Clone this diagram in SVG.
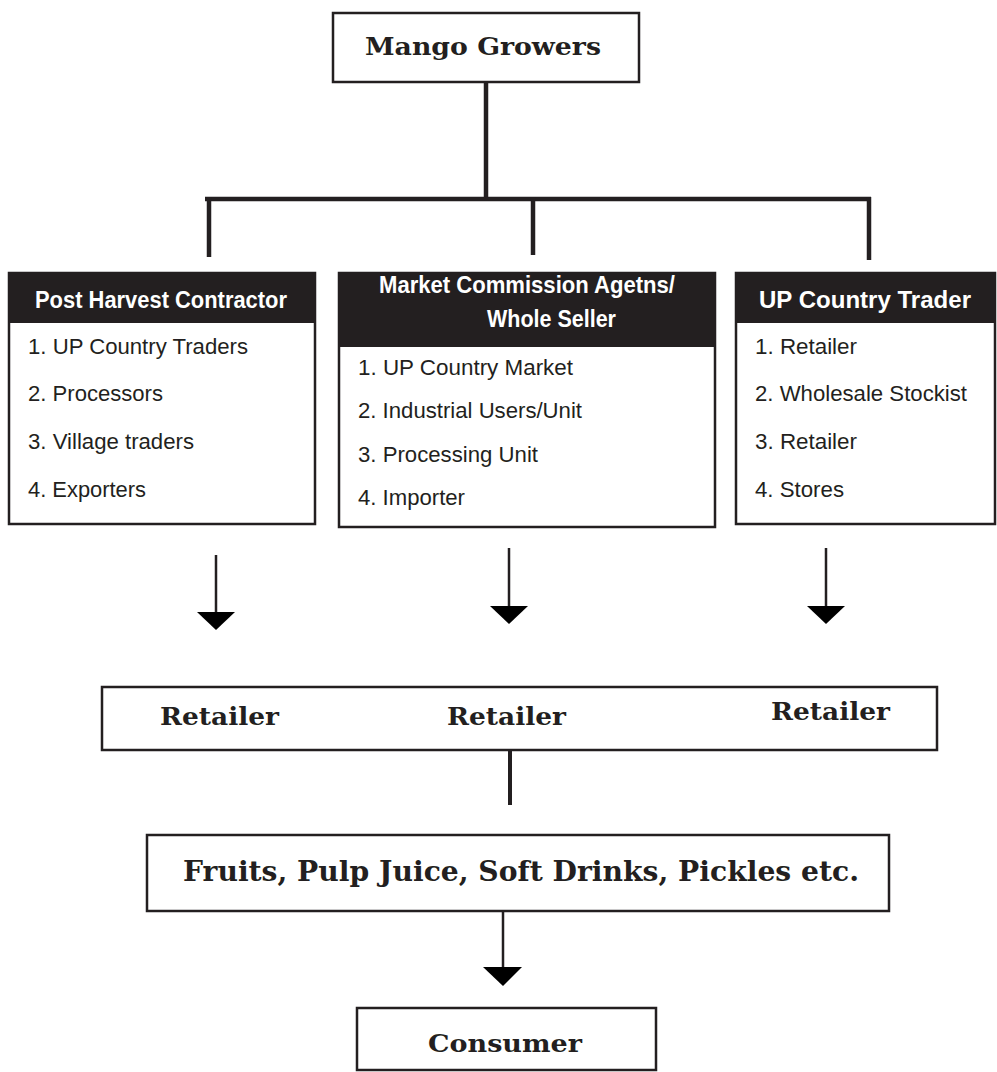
<svg xmlns="http://www.w3.org/2000/svg" width="997" height="1072" viewBox="0 0 997 1072">
<style>
.box{fill:#fff;stroke:#231f20;stroke-width:2.5}
.hdr{fill:#231f20}
.ln{stroke:#231f20;fill:none}
.serif{font-family:"DejaVu Serif","Liberation Serif",serif;font-weight:bold;fill:#231f20}
.hd{font-family:"Liberation Sans Narrow","Liberation Sans",Arial,sans-serif;font-weight:bold;fill:#fff;font-size:23px}
.it{font-family:"Liberation Sans Narrow","Liberation Sans",Arial,sans-serif;fill:#231f20;font-size:22px}
</style>
<rect width="997" height="1072" fill="#fff"/>

<g id="connectors">
<line class="ln" x1="486" y1="82" x2="486" y2="199" stroke-width="4.5"/>
<line class="ln" x1="205" y1="199" x2="871" y2="199" stroke-width="4.5"/>
<line class="ln" x1="209" y1="197" x2="209" y2="257" stroke-width="4.5"/>
<line class="ln" x1="533" y1="197" x2="533" y2="255" stroke-width="4.5"/>
<line class="ln" x1="869" y1="197" x2="869" y2="260" stroke-width="4.5"/>
<line class="ln" x1="216" y1="555" x2="216" y2="612" stroke-width="2.5"/>
<path d="M197,612 L235,612 L216,630 Z" fill="#000"/>
<line class="ln" x1="509" y1="548" x2="509" y2="606" stroke-width="2.5"/>
<path d="M490,606 L528,606 L509,624 Z" fill="#000"/>
<line class="ln" x1="826" y1="548" x2="826" y2="606" stroke-width="2.5"/>
<path d="M807,606 L845,606 L826,624 Z" fill="#000"/>
<line class="ln" x1="510" y1="750" x2="510" y2="805" stroke-width="4"/>
<line class="ln" x1="503" y1="911" x2="503" y2="967" stroke-width="2.5"/>
<path d="M483,967 L522,967 L503,986 Z" fill="#000"/>
</g>

<g id="mango-growers">
<rect class="box" x="333" y="13" width="306" height="69"/>
<text class="serif" x="365" y="55" font-size="25" textLength="236" lengthAdjust="spacingAndGlyphs">Mango Growers</text>
</g>

<g id="post-harvest-contractor">
<rect class="box" x="9" y="273" width="306" height="251"/>
<rect class="hdr" x="9" y="273" width="306" height="50"/>
<text class="hd" x="35" y="308" textLength="252" lengthAdjust="spacingAndGlyphs">Post Harvest Contractor</text>
<text class="it" x="28" y="354" textLength="220" lengthAdjust="spacingAndGlyphs">1. UP Country Traders</text>
<text class="it" x="28" y="401" textLength="135" lengthAdjust="spacingAndGlyphs">2. Processors</text>
<text class="it" x="28" y="449" textLength="166" lengthAdjust="spacingAndGlyphs">3. Village traders</text>
<text class="it" x="28" y="497" textLength="118" lengthAdjust="spacingAndGlyphs">4. Exporters</text>
</g>

<g id="market-commission">
<rect class="box" x="339" y="273" width="376" height="254"/>
<rect class="hdr" x="339" y="273" width="376" height="74"/>
<text class="hd" x="379" y="293" textLength="296" lengthAdjust="spacingAndGlyphs">Market Commission Agetns/</text>
<text class="hd" x="487" y="327" textLength="129" lengthAdjust="spacingAndGlyphs">Whole Seller</text>
<text class="it" x="358" y="375" textLength="215" lengthAdjust="spacingAndGlyphs">1. UP Country Market</text>
<text class="it" x="358" y="418" textLength="224" lengthAdjust="spacingAndGlyphs">2. Industrial Users/Unit</text>
<text class="it" x="358" y="462" textLength="180" lengthAdjust="spacingAndGlyphs">3. Processing Unit</text>
<text class="it" x="358" y="505" textLength="107" lengthAdjust="spacingAndGlyphs">4. Importer</text>
</g>

<g id="up-country-trader">
<rect class="box" x="736" y="273" width="259" height="251"/>
<rect class="hdr" x="736" y="273" width="259" height="50"/>
<text class="hd" x="759" y="308" textLength="212" lengthAdjust="spacingAndGlyphs">UP Country Trader</text>
<text class="it" x="755" y="354" textLength="102" lengthAdjust="spacingAndGlyphs">1. Retailer</text>
<text class="it" x="755" y="401" textLength="212" lengthAdjust="spacingAndGlyphs">2. Wholesale Stockist</text>
<text class="it" x="755" y="449" textLength="102" lengthAdjust="spacingAndGlyphs">3. Retailer</text>
<text class="it" x="755" y="497" textLength="89" lengthAdjust="spacingAndGlyphs">4. Stores</text>
</g>

<g id="retailers">
<rect class="box" x="102" y="687" width="835" height="63"/>
<text class="serif" x="160" y="725" font-size="25" textLength="119" lengthAdjust="spacingAndGlyphs">Retailer</text>
<text class="serif" x="447" y="725" font-size="25" textLength="119" lengthAdjust="spacingAndGlyphs">Retailer</text>
<text class="serif" x="771" y="720" font-size="25" textLength="119" lengthAdjust="spacingAndGlyphs">Retailer</text>
</g>

<g id="products">
<rect class="box" x="147" y="835" width="742" height="76"/>
<text class="serif" x="183" y="881" font-size="27" textLength="676" lengthAdjust="spacingAndGlyphs">Fruits, Pulp Juice, Soft Drinks, Pickles etc.</text>
</g>

<g id="consumer">
<rect class="box" x="357" y="1008" width="299" height="62"/>
<text class="serif" x="428" y="1052" font-size="25" textLength="154" lengthAdjust="spacingAndGlyphs">Consumer</text>
</g>
</svg>
